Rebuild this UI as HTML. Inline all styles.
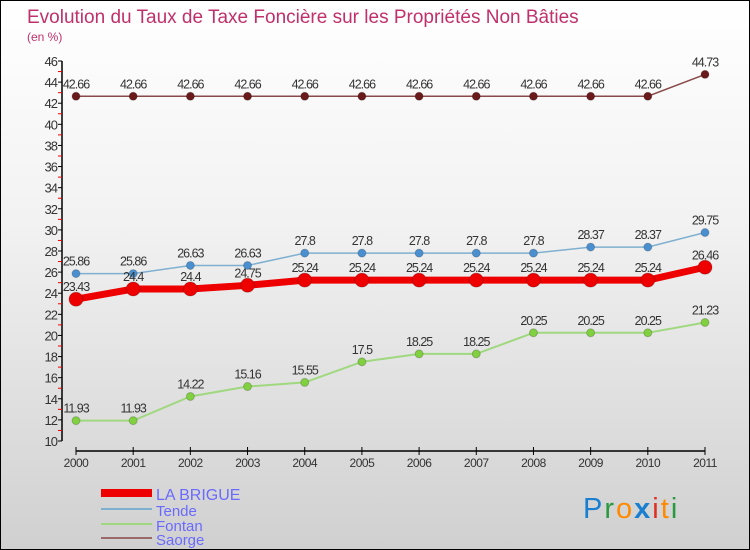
<!DOCTYPE html>
<html><head><meta charset="utf-8"><style>
body{margin:0}
#c{position:relative;width:748px;height:548px;border:1px solid #000;background:linear-gradient(#fff,#f2f2f2 40%,#d0d0d0);font-family:"Liberation Sans",sans-serif;overflow:hidden}
</style></head><body>
<div id="c">
<svg id="s" width="748" height="548" xmlns="http://www.w3.org/2000/svg">
<text x="26" y="22" font-size="19" fill="#c0306a">Evolution du Taux de Taxe Foncière sur les Propriétés Non Bâties</text>
<text x="26" y="40" font-size="12" fill="#c0306a">(en %)</text>
<g id="axes"></g><g id="series"></g>
<g>
<rect x="100" y="488" width="51" height="8" fill="#e00"/>
<text x="155" y="499" font-size="16" fill="#6a6aff">LA BRIGUE</text>
<line x1="100" y1="508" x2="151" y2="508" stroke="#7fb0d0" stroke-width="2"/>
<text x="155" y="515" font-size="15" fill="#6a6aff">Tende</text>
<line x1="100" y1="523" x2="151" y2="523" stroke="#a0d880" stroke-width="2"/>
<text x="155" y="530" font-size="15" fill="#6a6aff">Fontan</text>
<line x1="100" y1="537" x2="151" y2="537" stroke="#9a6a6a" stroke-width="2"/>
<text x="155" y="544" font-size="15" fill="#6a6aff">Saorge</text>
</g>
<text x="582" y="517" font-size="29" letter-spacing="2" font-family="'Liberation Sans',sans-serif"><tspan fill="#1a7fd0">P</tspan><tspan fill="#2a9a40">r</tspan><tspan fill="#ff8a00">o</tspan><tspan fill="#1a7fd0" font-weight="bold">x</tspan><tspan fill="#e03020">i</tspan><tspan fill="#ff8a00">t</tspan><tspan fill="#2a9a40">i</tspan></text>
</svg>
</div>
<script>
const years=[2000,2001,2002,2003,2004,2005,2006,2007,2008,2009,2010,2011];
const yTicks=[10,12,14,16,18,20,22,24,26,28,30,32,34,36,38,40,42,44,46];
const laBrigue=[23.43,24.4,24.4,24.75,25.24,25.24,25.24,25.24,25.24,25.24,25.24,26.46];
const tende=[25.86,25.86,26.63,26.63,27.8,27.8,27.8,27.8,27.8,28.37,28.37,29.75];
const fontan=[11.93,11.93,14.22,15.16,15.55,17.5,18.25,18.25,20.25,20.25,20.25,21.23];
const saorge=[42.66,42.66,42.66,42.66,42.66,42.66,42.66,42.66,42.66,42.66,42.66,44.73];
const NS="http://www.w3.org/2000/svg";
const X=i=>75+i*(629/11);
const Y=v=>440-(v-10)*(380/36);
function mk(t,a,p){const e=document.createElementNS(NS,t);for(const k in a)e.setAttribute(k,a[k]);p.appendChild(e);return e;}
const ax=document.getElementById('axes'),sg=document.getElementById('series');
const yl=mk('line',{x1:61,y1:60,x2:61,y2:440,stroke:'#000','stroke-width':1.5},ax);


yTicks.forEach(v=>{
 mk('line',{x1:57,y1:Y(v),x2:61,y2:Y(v),stroke:'#000'},ax);
 if(v<46)mk('line',{x1:57,y1:Y(v+1),x2:61,y2:Y(v+1),stroke:'#e00'},ax);
 const t=mk('text',{x:56,y:Y(v)+5,'text-anchor':'end','font-size':13,fill:'#333','letter-spacing':'-1'},ax);
 t.textContent=v;
 
 
});
const xl=mk('line',{x1:75,y1:450,x2:704,y2:450,stroke:'#000','stroke-width':1.5},ax);


years.forEach((y,i)=>{
 mk('line',{x1:X(i),y1:446,x2:X(i),y2:454,stroke:'#000'},ax);
 const t=mk('text',{x:X(i),y:466,'text-anchor':'middle','font-size':12,fill:'#333','letter-spacing':'-0.5'},ax);
 t.textContent=y;
 
 
});
function series(vals,name,col,dot,w,r){
 const g=mk('g',{},sg);
 
 
 const pts=vals.map((v,i)=>X(i)+','+Y(v)).join(' ');
 mk('polyline',{points:pts,fill:'none',stroke:col,'stroke-width':w},g);
 vals.forEach((v,i)=>{
  const c=mk('circle',{cx:X(i),cy:Y(v),r:r,fill:dot,stroke:'#0003'},g);
  
  
  const t=mk('text',{x:X(i),y:Y(v)-8,'text-anchor':'middle','font-size':12.5,fill:'#333','letter-spacing':'-1'},g);
  t.textContent=String(v);
  
  
 });
}
series(saorge,'saorge','#8a4a4a','#6a1a1a',1.5,4);
series(fontan,'fontan','#a0d880','#80d040',2,4);
series(tende,'tende','#7fb0d0','#4a90d0',1.5,4);
series(laBrigue,'la-brigue','#ee0000','#ee0000',7,7);
</script>
</body></html>
